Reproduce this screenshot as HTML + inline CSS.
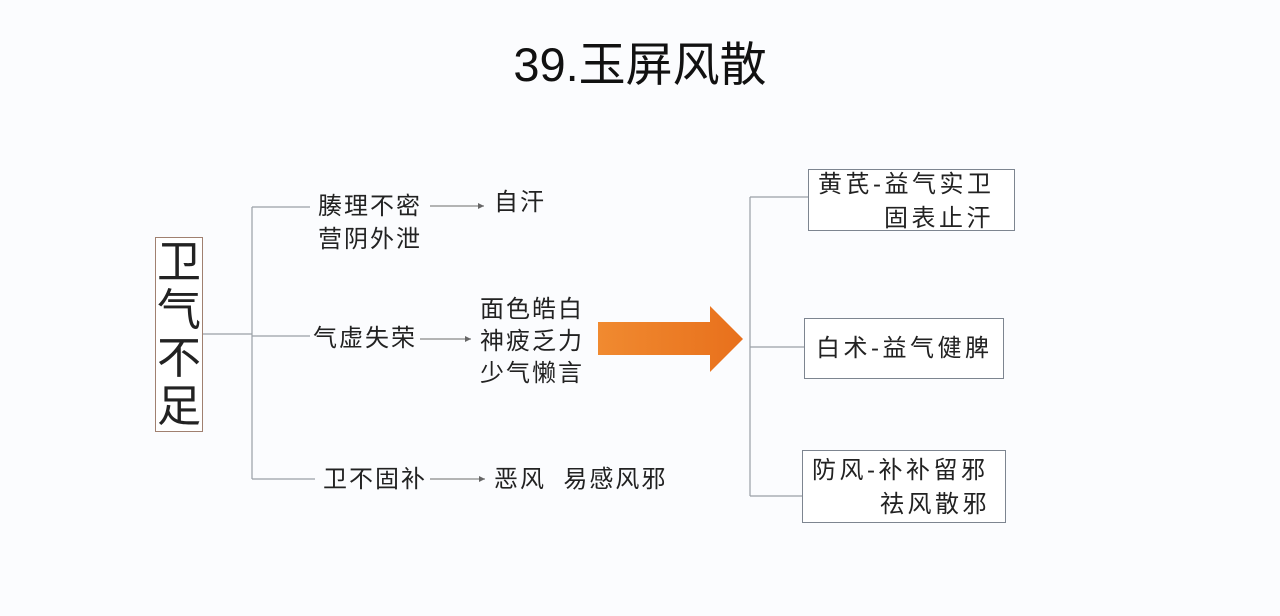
<!DOCTYPE html>
<html><head><meta charset="utf-8"><style>
body{margin:0;width:1280px;height:616px;background:#fbfcfe;position:relative;overflow:hidden;font-family:"Liberation Sans","Noto Sans CJK SC",sans-serif;color:#222}
.t{position:absolute;white-space:nowrap;font-size:24px;line-height:32px;letter-spacing:2px}
.box{position:absolute;border:1.5px solid #7d8590;background:#fff}
</style></head><body>
<div class="t" style="left:0;width:1280px;top:36px;text-align:center;font-size:47px;line-height:58px;color:#111;letter-spacing:0">39.玉屏风散</div>
<div class="box" style="left:155px;top:237px;width:46px;height:193px;border-color:#a08070"></div>
<div class="t" style="left:155px;top:239px;width:48px;text-align:center;font-size:44px;line-height:48px;white-space:normal;letter-spacing:0">卫气不足</div>
<svg width="1280" height="616" style="position:absolute;left:0;top:0">
<defs><linearGradient id="g" x1="0" x2="1"><stop offset="0" stop-color="#f08a30"/><stop offset="1" stop-color="#e8701c"/></linearGradient>
<marker id="a" markerWidth="6" markerHeight="6" refX="5" refY="3" orient="auto"><path d="M0,0.5 L5,3 L0,5.5z" fill="#666"/></marker></defs>
<g stroke="#9aa0a6" stroke-width="1.2" fill="none">
<path d="M203,334 H252 M252,207 V479 M252,207 H310 M252,336 H310 M252,479 H315"/>
<path d="M750,197 V496 M750,197 H808 M750,347 H804 M750,496 H802"/>
</g>
<g stroke="#888" stroke-width="1.2" marker-end="url(#a)">
<line x1="430" y1="206" x2="484" y2="206"/>
<line x1="420" y1="339" x2="471" y2="339"/>
<line x1="430" y1="479" x2="485" y2="479"/>
</g>
<path d="M598,322 H710 V306 L743,339 L710,372 V355 H598z" fill="url(#g)"/>
</svg>
<div class="t" style="left:318px;top:190px;line-height:33px">腠理不密<br>营阴外泄</div>
<div class="t" style="left:494px;top:187px">自汗</div>
<div class="t" style="left:313px;top:323px">气虚失荣</div>
<div class="t" style="left:480px;top:294px;line-height:32px">面色皓白<br>神疲乏力<br>少气懒言</div>
<div class="t" style="left:323px;top:464px">卫不固补</div>
<div class="t" style="left:494px;top:464px">恶风&nbsp;&nbsp;易感风邪</div>
<div class="box" style="left:808px;top:169px;width:205px;height:60px"></div>
<div class="t" style="left:818px;top:168px;line-height:34px;letter-spacing:3.5px">黄芪-益气实卫<br><span style="padding-left:66px">固表止汗</span></div>
<div class="box" style="left:804px;top:318px;width:198px;height:59px"></div>
<div class="t" style="left:816px;top:333px;letter-spacing:3.5px">白术-益气健脾</div>
<div class="box" style="left:802px;top:450px;width:202px;height:71px"></div>
<div class="t" style="left:812px;top:454px;line-height:34px;letter-spacing:3.5px">防风-补补留邪<br><span style="padding-left:68px">祛风散邪</span></div>
</body></html>
